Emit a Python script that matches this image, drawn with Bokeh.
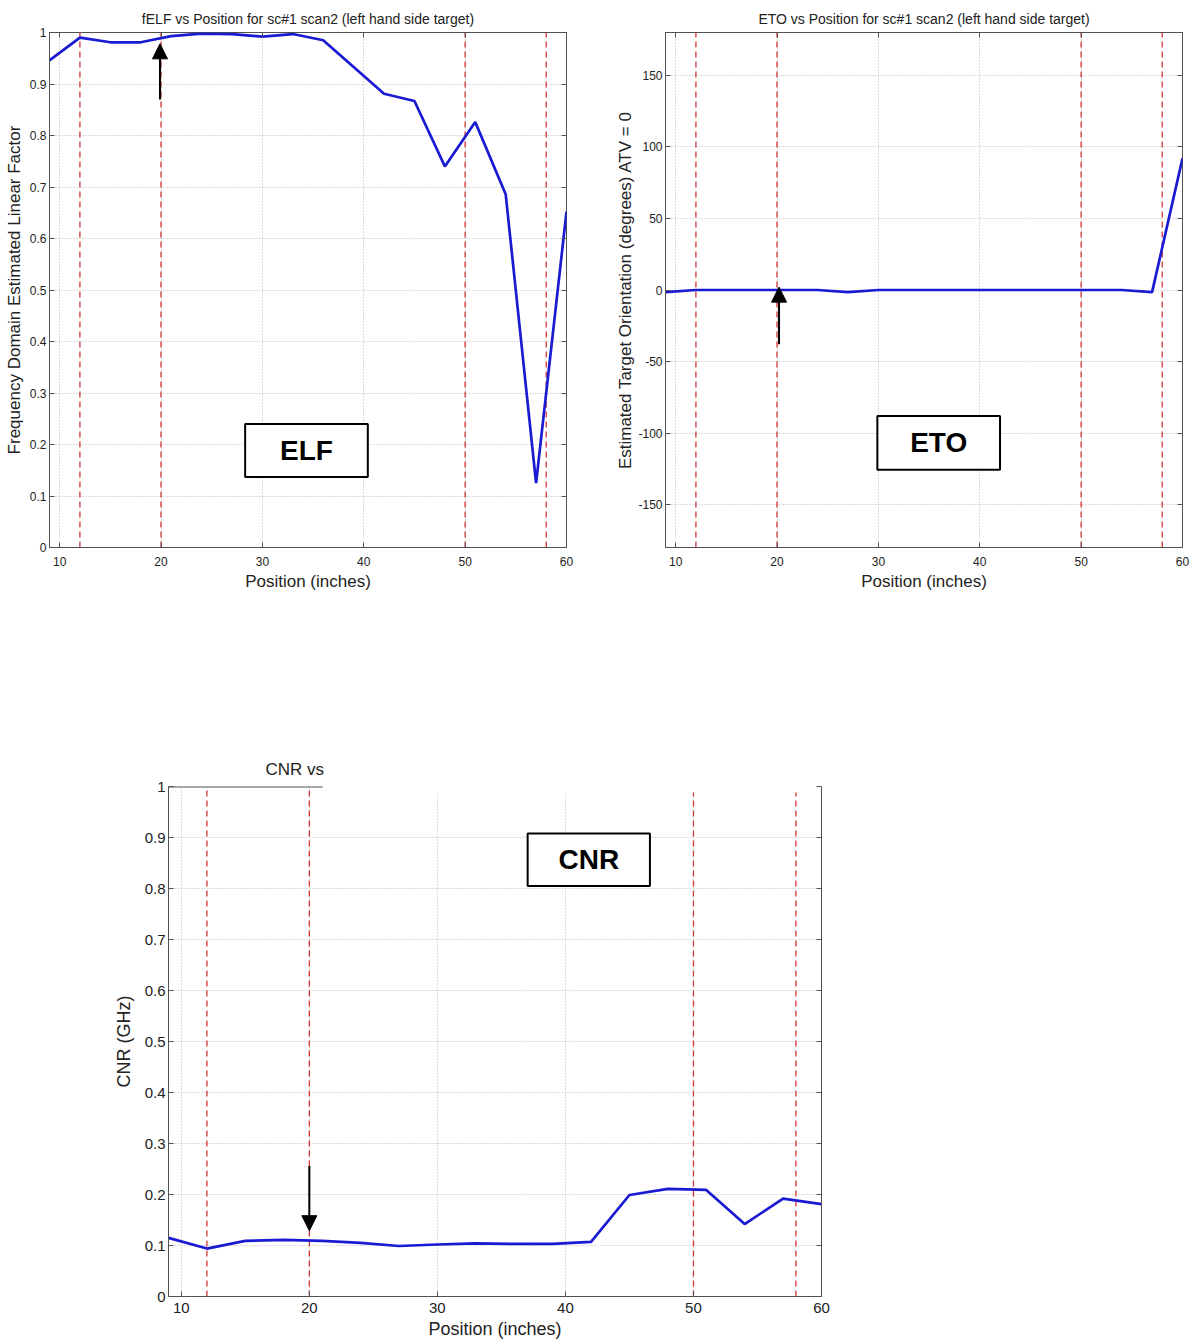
from bokeh.plotting import figure
from bokeh.layouts import column, row
from bokeh.models import Range1d, FixedTicker, LinearAxis, Arrow, NormalHead, Spacer
from bokeh.core.properties import value
from bokeh.embed import file_html
from bokeh.resources import INLINE

# ---------------- data ----------------
position = [9, 12, 15, 18, 21, 24, 27, 30, 33, 36, 39, 42, 45, 48, 51, 54, 57, 60]
elf = [0.946, 0.990, 0.981, 0.981, 0.993, 0.998, 0.997, 0.992, 0.997, 0.985,
       0.933, 0.881, 0.867, 0.740, 0.826, 0.686, 0.125, 0.652]
eto = [-1.5, 0, 0, 0, 0, 0, -1.5, 0, 0, 0, 0, 0, 0, 0, 0, 0, -1.5, 92]
cnr = [0.115, 0.094, 0.109, 0.111, 0.109, 0.105, 0.099, 0.102, 0.104, 0.103,
       0.103, 0.107, 0.199, 0.211, 0.209, 0.142, 0.192, 0.181]
target_marks = [12, 20, 50, 58]
x_ticks = [10, 20, 30, 40, 50, 60]
unit_ticks = [0, 0.1, 0.2, 0.3, 0.4, 0.5, 0.6, 0.7, 0.8, 0.9, 1]
eto_ticks = [-150, -100, -50, 0, 50, 100, 150]

titles = ["fELF vs Position for sc#1 scan2 (left hand side target)",
          "ETO vs Position for sc#1 scan2 (left hand side target)",
          "CNR vs"]
ylabels = ["Frequency Domain Estimated Linear Factor",
           "Estimated Target Orientation (degrees) ATV = 0",
           "CNR (GHz)"]
xlabel = "Position (inches)"
box_labels = ["ELF", "ETO", "CNR"]

FONT = "Liberation Sans"
BLUE = "#1a1ad2"
RED = "#d03535"
FRAME = "#505050"
GRID = "#b8b8b8"
TXT = "#222222"


def make(width, height, yr, yticks, title, ylabel, ys, borders, tick_px, lab_px,
         title_px, lab_stand, tick_stand, xlab_stand, title_stand, box, arrow,
         full_frame=True, title_offset=None):
    lb, rb, tb, bb = borders
    p = figure(width=width, height=height, x_range=Range1d(9, 60),
               y_range=Range1d(yr[0], yr[1]), output_backend="svg",
               toolbar_location=None, min_border_left=lb, min_border_right=rb,
               min_border_top=tb, min_border_bottom=bb,
               background_fill_color="white", border_fill_color="white")
    p.title.text = title
    p.title.text_font = FONT
    p.title.text_font_style = "normal"
    p.title.text_font_size = title_px
    p.title.text_color = TXT
    p.title.standoff = title_stand
    if title_offset is None:
        p.title.align = "center"
    else:
        p.title.align = "left"
        p.title.offset = title_offset
    p.outline_line_color = FRAME if full_frame else None

    xa, ya = p.xaxis[0], p.yaxis[0]
    xa.ticker = FixedTicker(ticks=x_ticks)
    ya.ticker = FixedTicker(ticks=yticks)
    if yticks is unit_ticks:
        ya.major_label_overrides = {0: "0", 1: "1"}
    else:
        ya.major_label_overrides = {t: str(t) for t in yticks}
    xa.axis_label = xlabel
    ya.axis_label = ylabel
    for ax in (xa, ya):
        ax.major_tick_in = 5
        ax.major_tick_out = 0
        ax.minor_tick_line_color = None
        ax.axis_line_color = FRAME
        ax.major_tick_line_color = FRAME
        ax.major_label_text_font = FONT
        ax.major_label_text_font_size = tick_px
        ax.major_label_text_color = TXT
        ax.axis_label_text_font = FONT
        ax.axis_label_text_font_size = lab_px
        ax.axis_label_text_font_style = "normal"
        ax.axis_label_text_color = TXT
    xa.major_label_standoff = tick_stand
    ya.major_label_standoff = 3
    xa.axis_label_standoff = xlab_stand
    ya.axis_label_standoff = lab_stand

    # inward ticks on the opposite sides (no labels drawn)
    ra = LinearAxis(ticker=FixedTicker(ticks=yticks), major_label_text_font_size="1px",
                    major_label_text_color=None,
                    major_tick_in=5, major_tick_out=0, minor_tick_line_color=None,
                    major_tick_line_color=FRAME,
                    axis_line_color=None if full_frame else FRAME,
                    major_label_standoff=0)
    p.add_layout(ra, "right")
    if full_frame:
        ta = LinearAxis(ticker=FixedTicker(ticks=x_ticks), major_label_text_font_size="1px",
                        major_label_text_color=None,
                        major_tick_in=5, major_tick_out=0, minor_tick_line_color=None,
                        major_tick_line_color=FRAME, axis_line_color=None,
                        major_label_standoff=0)
        p.add_layout(ta, "above")

    for g in (p.xgrid[0], p.ygrid[0]):
        g.grid_line_color = GRID
        g.grid_line_dash = "1 2"
        g.grid_line_width = 1
    p.xgrid[0].ticker = FixedTicker(ticks=x_ticks)
    p.ygrid[0].ticker = FixedTicker(ticks=yticks)

    n = len(target_marks)
    p.segment(x0=target_marks, x1=target_marks, y0=[yr[0]] * n, y1=[yr[1]] * n,
              line_color=RED, line_dash="6 4", line_width=1.3)
    p.line(position, ys, line_color=BLUE, line_width=2.7)

    bx0, bx1, by0, by1, text = box
    p.quad(left=[bx0], right=[bx1], bottom=[by0], top=[by1], fill_color="white",
           line_color="black", line_width=2)
    p.text(x=[(bx0 + bx1) / 2], y=[(by0 + by1) / 2], text=[text], text_align="center",
           text_baseline="middle", text_font=value(FONT), text_font_style="bold",
           text_font_size="28px", text_color="black")

    ax_, y_start, y_end = arrow
    p.add_layout(Arrow(end=NormalHead(size=15, fill_color="black", line_color="black"),
                       x_start=ax_, y_start=y_start, x_end=ax_, y_end=y_end,
                       line_color="black", line_width=2))
    return p


p1 = make(600, 606, (0, 1), unit_ticks, titles[0], ylabels[0], elf,
          (49, 34, 32, 57), "12px", "17px", "14px", 3, 9, 3, 12,
          (28.3, 40.4, 0.137, 0.240, box_labels[0]), (19.9, 0.87, 0.978))

p2 = make(600, 606, (-180, 180), eto_ticks, titles[1], ylabels[1], eto,
          (65, 18, 30, 59), "12px", "17px", "14px", 0, 9, 3, 12,
          (29.9, 42.0, -125.7, -88.0, box_labels[1]), (20.2, -38, 2))

p3 = make(723, 593, (0, 1), unit_ticks, titles[2], ylabels[2], cnr,
          (60, 10, 34, 47), "15px", "18px", "17px", 8, 6, 3, 15,
          (37.05, 46.6, 0.805, 0.908, box_labels[2]), (20, 0.256, 0.129),
          full_frame=False, title_offset=97)
# partial top frame edge and the blanked strip of the cropped original
p3.segment(x0=[9], x1=[21.05], y0=[1], y1=[1], line_color=FRAME, line_width=2)
p3.quad(left=[21.05], right=[60], bottom=[0.988], top=[1.0], fill_color="white",
        line_color=None)

layout = column(row(p1, p2), Spacer(height=144), row(Spacer(width=108), p3))

open("out.html", "w").write(file_html(layout, INLINE))
